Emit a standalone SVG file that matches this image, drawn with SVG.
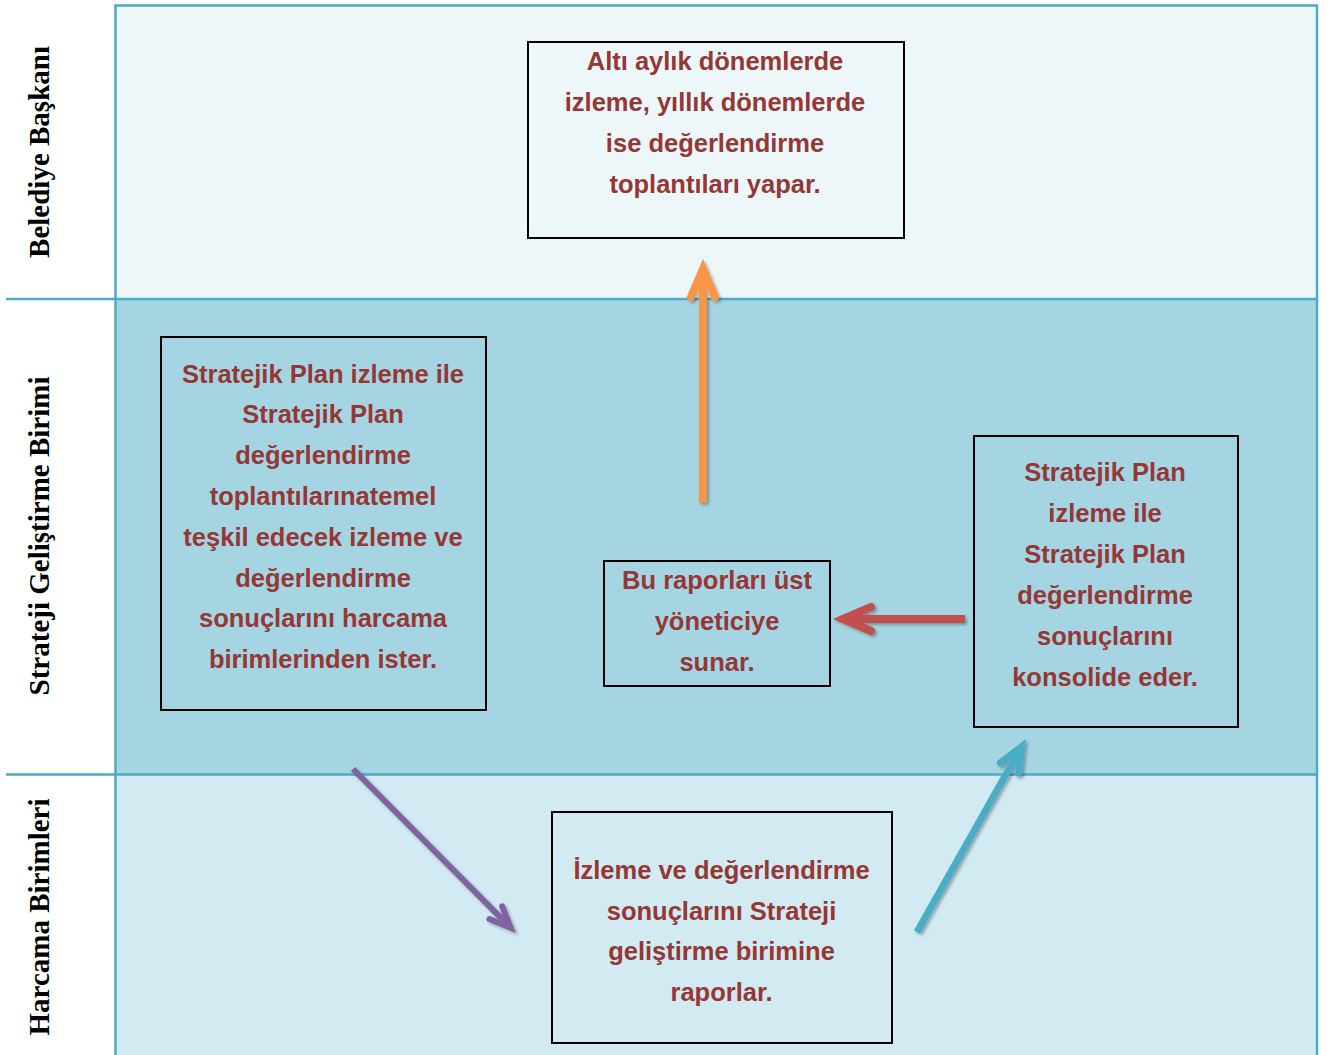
<svg xmlns="http://www.w3.org/2000/svg" width="1331" height="1055" viewBox="0 0 1331 1055">
<style>
.lane-line{stroke:#4bacc6;stroke-width:2.5;fill:none}
.box{stroke:#000;stroke-width:2}
.t{font-family:"Liberation Sans",Arial,sans-serif;font-weight:bold;font-size:25.5px;fill:#953735;text-anchor:middle}
.lbl{font-family:"Liberation Serif","Times New Roman",serif;font-weight:bold;font-size:29px;fill:#000;text-anchor:middle}
.arr{fill:none;stroke-linecap:butt}
</style>
<defs>
<filter id="sh" filterUnits="userSpaceOnUse" x="0" y="0" width="1331" height="1055">
<feDropShadow dx="2" dy="2" stdDeviation="1.5" flood-color="#000" flood-opacity="0.3"/>
</filter>
<marker id="mO" markerUnits="strokeWidth" orient="auto" refX="0" refY="0" markerWidth="5" markerHeight="5" overflow="visible"><path d="M-3.5,-1.5 L0,0 L-3.5,1.5" fill="none" stroke="#f79646" stroke-width="1" stroke-linecap="round" stroke-linejoin="miter" stroke-miterlimit="10"/></marker>
<marker id="mR" markerUnits="strokeWidth" orient="auto" refX="0" refY="0" markerWidth="5" markerHeight="5" overflow="visible"><path d="M-3.5,-1.5 L0,0 L-3.5,1.5" fill="none" stroke="#c0504d" stroke-width="1" stroke-linecap="round" stroke-linejoin="miter" stroke-miterlimit="10"/></marker>
<marker id="mP" markerUnits="strokeWidth" orient="auto" refX="0" refY="0" markerWidth="5" markerHeight="5" overflow="visible"><path d="M-3.5,-1.5 L0,0 L-3.5,1.5" fill="none" stroke="#8064a2" stroke-width="1" stroke-linecap="round" stroke-linejoin="miter" stroke-miterlimit="10"/></marker>
<marker id="mB" markerUnits="strokeWidth" orient="auto" refX="0" refY="0" markerWidth="5" markerHeight="5" overflow="visible"><path d="M-3.5,-1.5 L0,0 L-3.5,1.5" fill="none" stroke="#4bacc6" stroke-width="1" stroke-linecap="round" stroke-linejoin="miter" stroke-miterlimit="10"/></marker>
</defs>
<rect width="1331" height="1055" fill="#fff"/>
<g id="lanes">
<rect x="115.5" y="5.5" width="1201.5" height="293.5" fill="#edf6f9"/>
<rect x="115.5" y="299" width="1201.5" height="475.5" fill="#a5d5e2"/>
<rect x="115.5" y="774.5" width="1201.5" height="281" fill="#d2eaf1"/>
<path class="lane-line" d="M115.5,1055 V5.5 H1317 V1055"/>
<path class="lane-line" d="M6,299 H1317 M6,774.5 H1317"/>
<text class="lbl" transform="translate(49,152) rotate(-90)">Belediye Başkanı</text>
<text class="lbl" transform="translate(49,536) rotate(-90)">Strateji Geliştirme Birimi</text>
<text class="lbl" transform="translate(49,917) rotate(-90)">Harcama Birimleri</text>
</g>
<g id="connectors" filter="url(#sh)">
<line class="arr" x1="703" y1="503" x2="703" y2="269" stroke="#f79646" stroke-width="8" marker-end="url(#mO)"/>
<line class="arr" x1="965" y1="619" x2="843" y2="619" stroke="#c0504d" stroke-width="8" marker-end="url(#mR)"/>
<line class="arr" x1="353" y1="769" x2="510.6" y2="927.6" stroke="#8064a2" stroke-width="6" marker-end="url(#mP)"/>
<line class="arr" x1="917" y1="932" x2="1021.6" y2="746.7" stroke="#4bacc6" stroke-width="7" marker-end="url(#mB)"/>
</g>
<g id="node-baskan">
<rect class="box" x="528" y="42" width="376" height="196" fill="#edf6f9"/>
<text class="t" x="715"><tspan x="715" y="69.5">Altı aylık dönemlerde</tspan><tspan x="715" y="110.5">izleme, yıllık dönemlerde</tspan><tspan x="715" y="151.5">ise değerlendirme</tspan><tspan x="715" y="192.5">toplantıları yapar.</tspan></text>
</g>
<g id="node-ister">
<rect class="box" x="161" y="337" width="325" height="373" fill="#a5d5e2"/>
<text class="t"><tspan x="323" y="382.5">Stratejik Plan izleme ile</tspan><tspan x="323" y="423.3">Stratejik Plan</tspan><tspan x="323" y="464.1">değerlendirme</tspan><tspan x="323" y="504.9">toplantılarınatemel</tspan><tspan x="323" y="545.7">teşkil edecek izleme ve</tspan><tspan x="323" y="586.5">değerlendirme</tspan><tspan x="323" y="627.3">sonuçlarını harcama</tspan><tspan x="323" y="668.1">birimlerinden ister.</tspan></text>
</g>
<g id="node-sunar">
<rect class="box" x="604" y="561" width="226" height="125" fill="#a5d5e2"/>
<text class="t"><tspan x="717" y="589">Bu raporları üst</tspan><tspan x="717" y="630">yöneticiye</tspan><tspan x="717" y="671">sunar.</tspan></text>
</g>
<g id="node-konsolide">
<rect class="box" x="974" y="436" width="264" height="291" fill="#a5d5e2"/>
<text class="t"><tspan x="1105" y="481">Stratejik Plan</tspan><tspan x="1105" y="522">izleme ile</tspan><tspan x="1105" y="563">Stratejik Plan</tspan><tspan x="1105" y="604">değerlendirme</tspan><tspan x="1105" y="645">sonuçlarını</tspan><tspan x="1105" y="686">konsolide eder.</tspan></text>
</g>
<g id="node-raporlar">
<rect class="box" x="552" y="812" width="340" height="231" fill="#d2eaf1"/>
<text class="t"><tspan x="721.5" y="879">İzleme ve değerlendirme</tspan><tspan x="721.5" y="919.7">sonuçlarını Strateji</tspan><tspan x="721.5" y="960.4">geliştirme birimine</tspan><tspan x="721.5" y="1001">raporlar.</tspan></text>
</g>
</svg>
